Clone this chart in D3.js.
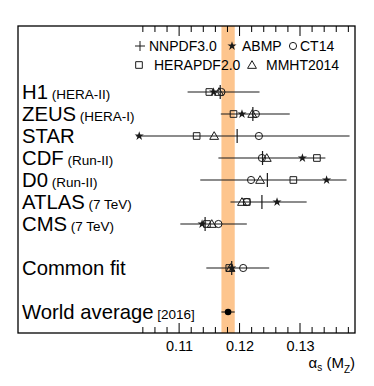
<!DOCTYPE html>
<html><head><meta charset="utf-8">
<script src="https://cdn.jsdelivr.net/npm/d3@7"></script>
<style>body{margin:0;background:#fff}svg{display:block}text{font-family:"Liberation Sans",Arial,sans-serif;fill:#000}</style>
</head><body><svg id="c" width="374" height="386"></svg>
<script>
const experiments = ["H1","ZEUS","STAR","CDF","D0","ATLAS","CMS","","Common fit","","World average"];
const expNotes = ["(HERA-II)","(HERA-I)","","(Run-II)","(Run-II)","(7 TeV)","(7 TeV)","","","","[2016]"];
const fitRows = ["H1","ZEUS","STAR","CDF","D0","ATLAS","CMS","Common fit"];
const nnpdf   = [0.1168,0.1222,0.1196,0.1238,0.1246,0.1237,0.1143,0.1187];
const nnpdfLo = [0.1114,0.1169,0.1029,0.1165,0.1135,0.1185,0.1102,0.1145];
const nnpdfHi = [0.1233,0.1283,0.1382,0.1342,0.1377,0.1311,0.1212,0.1249];
const abmp    = [0.1157,0.1204,0.1034,0.1304,0.1344,0.1262,0.1138,0.1187];
const ct14    = [0.1170,0.1227,0.1232,0.1237,0.1219,0.1212,0.1165,0.1206];
const herapdf = [0.1150,0.1190,0.1129,0.1328,0.1289,0.1212,0.1146,0.1183];
const mmht    = [0.1166,0.1221,0.1158,0.1245,0.1234,0.1204,0.1154,0.1185];
const worldAvg = 0.1181, worldErr = 0.0011;
const xTicks = [0.11,0.12,0.13];
const legendNames = ["NNPDF3.0","ABMP","CT14","HERAPDF2.0","MMHT2014"];

const svg = d3.select("#c");
const L=18,R=355,T=26,B=333, axL=135;
const x = d3.scaleLinear().domain([0.1027,0.1391]).range([axL,R]);
const y = d3.scalePoint().domain(experiments.map((d,i)=>i)).range([92,312]);
const ink="#1a1a1a";

// band
svg.append("rect").attr("x",x(worldAvg-worldErr)).attr("width",x(worldAvg+worldErr)-x(worldAvg-worldErr))
  .attr("y",T).attr("height",B-T).attr("fill","#fdc58e");

// frame
svg.append("rect").attr("x",L).attr("y",T).attr("width",R-L).attr("height",B-T).attr("fill","none").attr("stroke","#000").attr("stroke-width",1.3);

// axes ticks
const minor = d3.range(0.104,0.1391,0.002);
const gb = svg.append("g");
minor.forEach(v=>{
  const major = xTicks.some(t=>Math.abs(t-v)<1e-6);
  const len = major?10:6;
  gb.append("line").attr("x1",x(v)).attr("x2",x(v)).attr("y1",B).attr("y2",B-len).attr("stroke","#000");
  gb.append("line").attr("x1",x(v)).attr("x2",x(v)).attr("y1",T).attr("y2",T+len).attr("stroke","#000");
});
const ax = d3.axisBottom(x).tickValues(xTicks).tickSize(0).tickPadding(0).tickFormat(d3.format(".2f"));
const axg = svg.append("g").attr("transform",`translate(0,${B})`).call(ax);
axg.select(".domain").remove();
axg.selectAll("text").attr("y",18).attr("dy",0).attr("font-size",14.5).style("font-family","Liberation Sans, Arial, sans-serif");

// axis title
const tt = svg.append("text").attr("x",R).attr("y",368).attr("text-anchor","end").attr("font-size",15);
tt.append("tspan").text("α");
tt.append("tspan").text("s").attr("font-size",10).attr("dy",3);
tt.append("tspan").text(" (M").attr("dy",-3);
tt.append("tspan").text("Z").attr("font-size",10).attr("dy",5);
tt.append("tspan").text(")").attr("dy",-5);

// labels
experiments.forEach((e,i)=>{
  if(!e) return;
  const t = svg.append("text").attr("x",22).attr("y",y(i)+7).attr("font-size",20.3);
  t.append("tspan").text(e);
  if(expNotes[i]) t.append("tspan").text(" "+expNotes[i]).attr("font-size",13.5);
});

const sym = {
  star: d3.symbol().type(d3.symbolStar).size(26)(),
  square: d3.symbol().type(d3.symbolSquare).size(44)(),
  triangle: d3.symbol().type(d3.symbolTriangle).size(34)(),
};
function marker(g,type,cx,cy){
  if(type==="circle") g.append("circle").attr("cx",cx).attr("cy",cy).attr("r",3.6).attr("fill","none").attr("stroke",ink).attr("stroke-width",1);
  else if(type==="star") g.append("path").attr("d",sym.star).attr("transform",`translate(${cx},${cy})`).attr("fill",ink);
  else if(type==="cross"){
    g.append("line").attr("x1",cx-5).attr("x2",cx+5).attr("y1",cy).attr("y2",cy).attr("stroke",ink);
    g.append("line").attr("x1",cx).attr("x2",cx).attr("y1",cy-5).attr("y2",cy+5).attr("stroke",ink);
  }
  else g.append("path").attr("d",sym[type]).attr("transform",`translate(${cx},${cy+(type==="triangle"?0.8:0)})`).attr("fill","none").attr("stroke",ink).attr("stroke-width",1);
}

// data points
const gp = svg.append("g");
fitRows.forEach((r,k)=>{
  const cy = y(experiments.indexOf(r));
  gp.append("line").attr("x1",x(nnpdfLo[k])).attr("x2",x(nnpdfHi[k])).attr("y1",cy).attr("y2",cy).attr("stroke",ink).attr("stroke-width",1.1);
  gp.append("line").attr("x1",x(nnpdf[k])).attr("x2",x(nnpdf[k])).attr("y1",cy-7).attr("y2",cy+7).attr("stroke",ink).attr("stroke-width",1.2);
  marker(gp,"square",x(herapdf[k]),cy);
  marker(gp,"triangle",x(mmht[k]),cy);
  marker(gp,"circle",x(ct14[k]),cy);
  marker(gp,"star",x(abmp[k]),cy);
});
// world average
const wy = y(experiments.indexOf("World average"));
gp.append("line").attr("x1",x(worldAvg-worldErr)).attr("x2",x(worldAvg+worldErr)).attr("y1",wy).attr("y2",wy).attr("stroke",ink).attr("stroke-width",1.1);
gp.append("circle").attr("cx",x(worldAvg)).attr("cy",wy).attr("r",3.3).attr("fill","#000");

// legend
const lg = svg.append("g");
const legPos = [[140,46,"cross"],[232,46,"star"],[293,46,"circle"],[139,65,"square"],[252,65,"triangle"]];
const legTextX = [149,242,300,154,266];
legendNames.forEach((n,i)=>{
  const [lx,ly,t]=legPos[i];
  marker(lg,t,lx,ly);
  lg.append("text").attr("x",legTextX[i]).attr("y",ly+5).attr("font-size",14).text(n);
});
</script></body></html>
